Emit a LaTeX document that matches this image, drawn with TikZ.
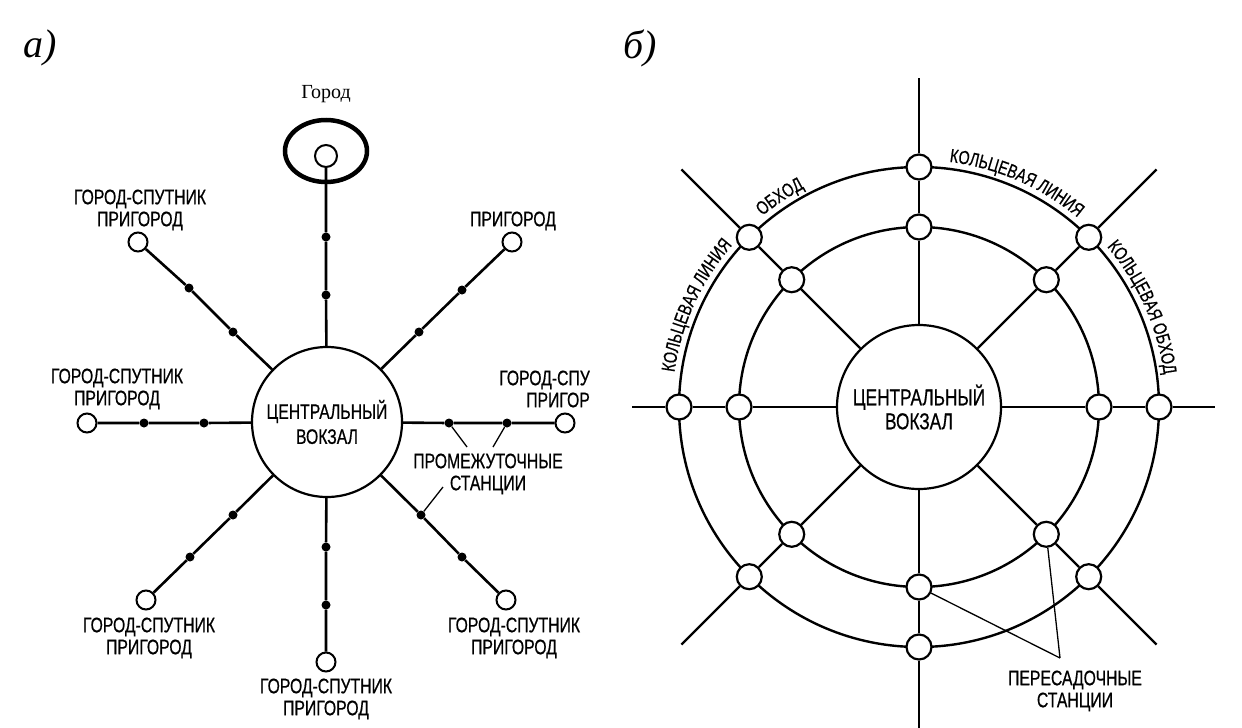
\documentclass[tikz,border=0pt]{standalone}
\usepackage{fontspec}
\setmainfont{Liberation Serif}
\newfontfamily\condfont[FakeStretch=0.75,FakeBold=0.6]{Liberation Sans}
\usetikzlibrary{decorations.text,backgrounds}
\newcommand\lblfont{\condfont\fontsize{21}{22}\selectfont}
\newcommand\bigfont{\condfont\fontsize{23}{24}\selectfont}
\newcommand\curvfont{\condfont\fontsize{19}{20}\selectfont}
\begin{document}
\begin{tikzpicture}[x=1pt,y=-1pt,
  lbl/.style={font=\lblfont, align=center, inner sep=0pt, text=black},
  hub/.style={circle, draw, line width=2.2pt, fill=white, inner sep=0pt, font=\lblfont, align=center},
  endst/.style={circle, draw, line width=2pt, fill=white, minimum size=19pt, inner sep=0pt},
  dotst/.style={circle, fill=black, minimum size=9pt, inner sep=0pt},
  rail/.style={line width=2.6pt},
  stat/.style={circle, draw, line width=2.2pt, fill=white, minimum size=25pt, inner sep=0pt},
  rline/.style={line width=2.4pt},
  ptr/.style={line width=1.3pt},
  curv/.style={decorate, decoration={text along path, text align=center, text={|\curvfont|#1}}},
  panel/.style={font=\itshape\fontsize{40}{40}\selectfont, inner sep=0pt}
]
\useasboundingbox (0,0) rectangle (1242,728);
\begin{pgfonlayer}{background}
  \fill[white] (0,0) rectangle (1242,728);
\end{pgfonlayer}

% ---------- panel a ----------
\node[panel] (pa) at (40,48) {а)};
\node[font=\fontsize{20}{22}\selectfont, inner sep=0pt] (gorod) at (326,94) {Город};
\draw[line width=4.5pt] (326,151) ellipse [x radius=41pt, y radius=31pt];
\node[endst, minimum size=22pt] (T) at (326,156) {};

\node[hub, minimum size=150pt] (C1) at (327,422) {ЦЕНТРАЛЬНЫЙ\\[3pt]ВОКЗАЛ};

\node[dotst] (aT) at (326,237) {};
\node[dotst] (bT) at (326,295) {};
\draw[rail] (C1) -- (bT) -- (aT) -- (T);

\foreach \n/\ex/\ey/\ax/\ay/\bx/\by in {
  UL/138/242/189/288/233/332,
  UR/512/242/462/290/419/332,
  L/87/423/144/423/204/423,
  R/565/423/507/423/449/423,
  LL/146/600/190/557/233/515,
  B/326/662/326/605/326/547,
  LR/506/600/462/557/421/515}
{
  \node[endst] (e\n) at (\ex,\ey) {};
  \node[dotst] (a\n) at (\ax,\ay) {};
  \node[dotst] (b\n) at (\bx,\by) {};
  \draw[rail] (C1) -- (b\n) -- (a\n) -- (e\n);
}

\node[lbl] (lUL) at (140,210) {ГОРОД-СПУТНИК\\ПРИГОРОД};
\node[lbl] (lUR) at (513,221) {ПРИГОРОД};
\node[lbl] (lL) at (117,389) {ГОРОД-СПУТНИК\\ПРИГОРОД};
\node[lbl, anchor=east, align=right] (lR) at (590,389) {ГОРОД-СПУ\\ПРИГОР};
\node[lbl] (lM) at (488,474) {ПРОМЕЖУТОЧНЫЕ\\СТАНЦИИ};
\node[lbl] (lLL) at (149,638) {ГОРОД-СПУТНИК\\ПРИГОРОД};
\node[lbl] (lB) at (326,699) {ГОРОД-СПУТНИК\\ПРИГОРОД};
\node[lbl] (lLR) at (514,638) {ГОРОД-СПУТНИК\\ПРИГОРОД};

\coordinate (p1) at (467,447);
\coordinate (p2) at (493,447);
\coordinate (p3) at (443,487);
\draw[ptr] (bR) -- (p1);
\draw[ptr] (aR) -- (p2);
\draw[ptr] (bLR) -- (p3);

% ---------- panel b ----------
\node[panel] (pb) at (640,48) {б)};
\begin{scope}[shift={(919pt,-407pt)}, y=1pt]
  \node[hub, minimum size=164pt, font=\bigfont] (C2) at (0,0) {ЦЕНТРАЛЬНЫЙ\\[0pt]ВОКЗАЛ};
  \foreach \k in {0,...,7} {
    \node[stat] (i\k) at (\k*45:180) {};
    \node[stat] (o\k) at (\k*45:240) {};
  }
  \coordinate (x0) at (296,0);
  \coordinate (x1) at (45:336);
  \coordinate (x2) at (0,329);
  \coordinate (x3) at (135:336);
  \coordinate (x4) at (-287,0);
  \coordinate (x5) at (225:336);
  \coordinate (x6) at (0,-321);
  \coordinate (x7) at (315:336);
  \foreach \k in {0,...,7} {
    \draw[rline] (C2) -- (i\k) -- (o\k) -- (x\k);
  }
  \begin{pgfonlayer}{background}
    \draw[rline] (0,0) circle[radius=180pt];
    \draw[rline] (0,0) circle[radius=240pt];
  \end{pgfonlayer}

  \path[curv={КОЛЬЦЕВАЯ ЛИНИЯ}] (90:247) arc[start angle=90, end angle=43, radius=247pt];
  \path[curv={ОБХОД}] (135:247) arc[start angle=135, end angle=112, radius=247pt];
  \path[curv={КОЛЬЦЕВАЯ ЛИНИЯ}] (175:247) arc[start angle=175, end angle=136, radius=247pt];
  \path[curv={КОЛЬЦЕВАЯ ОБХОД}] (44:247) arc[start angle=44, end angle=4, radius=247pt];

  \coordinate (apx) at (141,-251);
  \draw[ptr] (i6) -- (apx);
  \draw[ptr] (i7) -- (apx);
  \node[lbl] (lP) at (156,-284) {ПЕРЕСАДОЧНЫЕ\\СТАНЦИИ};
\end{scope}
\end{tikzpicture}
\end{document}
